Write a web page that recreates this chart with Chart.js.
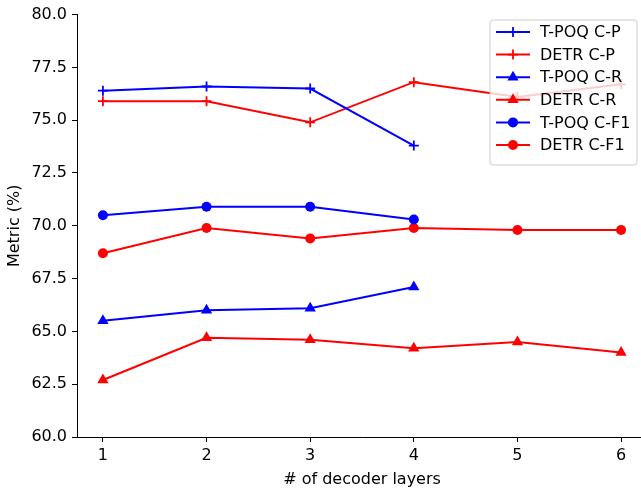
<!DOCTYPE html>
<html>
<head>
<meta charset="utf-8">
<script src="https://cdn.jsdelivr.net/npm/chart.js@4"></script>
<style>
  html, body { margin: 0; padding: 0; background: #fff; overflow: hidden; }
  #wrap { width: 660px; height: 489px; }
</style>
</head>
<body>
<div id="wrap"><canvas id="myChart"></canvas></div>
<script>
const layers = [1, 2, 3, 4, 5, 6];
const yTicks = [60, 62.5, 65, 67.5, 70, 72.5, 75, 77.5, 80];

const tpoqCP = [76.4, 76.6, 76.5, 73.8];
const detrCP = [75.9, 75.9, 74.9, 76.8, 76.1, 76.7];
const tpoqCR = [65.5, 66.0, 66.1, 67.1];
const detrCR = [62.7, 64.7, 64.6, 64.2, 64.5, 64.0];
const tpoqCF1 = [70.5, 70.9, 70.9, 70.3];
const detrCF1 = [68.7, 69.9, 69.4, 69.9, 69.8, 69.8];

const font = "'DejaVu Sans', sans-serif";
const fsize = 16;

function series(label, vals, color, style) {
  let r = 5;
  if (style === 'triangle') r = 6.5;
  if (style === 'circle') r = 5;
  return {
    label: label,
    data: vals.map((v, i) => ({ x: layers[i], y: v })),
    borderColor: color,
    backgroundColor: color,
    borderWidth: 2,
    pointStyle: style,
    pointRadius: r,
    pointBorderWidth: style === 'cross' ? 1.8 : 0,
    pointBorderColor: color,
    pointBackgroundColor: color,
    tension: 0
  };
}

// legend box drawn inside the axes, top right
const boxLegend = {
  id: 'boxLegend',
  afterDraw(chart) {
    const c = chart.ctx;
    const x0 = 490, y0 = 20, w = 147, h = 145;
    c.save();
    c.beginPath();
    c.roundRect(x0, y0, w, h, 3);
    c.fillStyle = 'rgba(255,255,255,0.8)';
    c.fill();
    c.strokeStyle = '#cccccc';
    c.lineWidth = 1;
    c.stroke();
    chart.data.datasets.forEach((ds, i) => {
      const y = 32 + i * 22.6;
      c.beginPath();
      c.moveTo(496, y);
      c.lineTo(530, y);
      c.strokeStyle = ds.borderColor;
      c.lineWidth = 2;
      c.stroke();
      c.fillStyle = ds.borderColor;
      c.strokeStyle = ds.borderColor;
      c.lineWidth = ds.pointBorderWidth || 1;
      Chart.helpers.drawPoint(c, {
        pointStyle: ds.pointStyle,
        radius: ds.pointRadius,
        rotation: 0,
        borderWidth: ds.pointBorderWidth
      }, 513, y);
      c.fillStyle = '#000';
      c.font = fsize + 'px ' + font;
      c.textBaseline = 'middle';
      c.fillText(ds.label, 540, y + 1);
    });
    c.restore();
  }
};

new Chart(document.getElementById('myChart'), {
  type: 'line',
  data: {
    datasets: [
      series('T-POQ C-P', tpoqCP, '#0000ff', 'cross'),
      series('DETR C-P', detrCP, '#ff0000', 'cross'),
      series('T-POQ C-R', tpoqCR, '#0000ff', 'triangle'),
      series('DETR C-R', detrCR, '#ff0000', 'triangle'),
      series('T-POQ C-F1', tpoqCF1, '#0000ff', 'circle'),
      series('DETR C-F1', detrCF1, '#ff0000', 'circle')
    ]
  },
  plugins: [boxLegend],
  options: {
    responsive: true,
    maintainAspectRatio: false,
    animation: false,
    layout: { padding: { top: 13, right: 13, left: 0, bottom: 0 } },
    plugins: {
      legend: { display: false },
      tooltip: { enabled: false }
    },
    scales: {
      x: {
        type: 'linear',
        min: 0.75,
        max: 6.25,
        afterBuildTicks: (ax) => { ax.ticks = layers.map(v => ({ value: v })); },
        afterFit: (ax) => { ax.height = 52; },
        ticks: { color: '#000', font: { family: font, size: fsize }, padding: 4, maxRotation: 0 },
        grid: { drawOnChartArea: false, drawTicks: true, tickLength: 5, color: '#000' },
        border: { display: true, color: '#000', width: 1 },
        title: { display: true, text: '# of decoder layers', color: '#000', font: { family: font, size: fsize }, padding: { top: 0, bottom: 0 } }
      },
      y: {
        min: 60,
        max: 80,
        afterBuildTicks: (ax) => { ax.ticks = yTicks.map(v => ({ value: v })); },
        afterFit: (ax) => { ax.width = 77; },
        ticks: { color: '#000', font: { family: font, size: fsize }, padding: 5, callback: v => v.toFixed(1) },
        grid: { drawOnChartArea: false, drawTicks: true, tickLength: 5, color: '#000' },
        border: { display: true, color: '#000', width: 1 },
        title: { display: true, text: 'Metric (%)', color: '#000', font: { family: font, size: fsize }, padding: { top: 5, bottom: 0 } }
      }
    }
  }
});
</script>
</body>
</html>
